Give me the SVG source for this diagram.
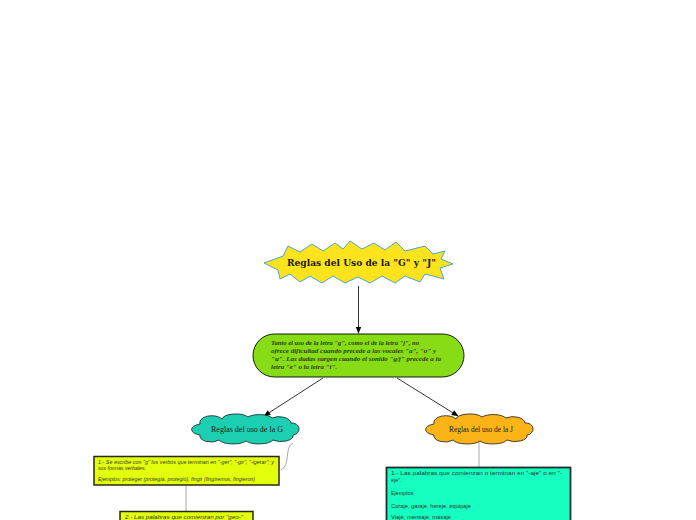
<svg xmlns="http://www.w3.org/2000/svg" width="696" height="520" viewBox="0 0 696 520">
<style>
.conn{stroke:#000;stroke-width:0.8;fill:none}
.thin{stroke:#a8a8a8;stroke-width:1;fill:none}
.serif{font-family:"Liberation Serif","DejaVu Serif",serif}
.sans{font-family:"Liberation Sans",Arial,sans-serif}
.cloud{stroke:#1a1a1a;stroke-width:0.8}
</style>
<defs>
<marker id="arr" viewBox="0 0 10 10" refX="9" refY="5" markerWidth="7" markerHeight="7" orient="auto-start-reverse" markerUnits="userSpaceOnUse">
<path d="M0,1 L10,5 L0,9 z" fill="#000"/>
</marker>
<path id="cloudShape" d="M 200 424 A 12 7 0 0 1 222 419 A 14 6 0 0 1 248 417 A 14 6 0 0 1 272 418 A 12 7 0 0 1 291 423 A 7 6 0 0 1 293 435 A 12 6 0 0 1 273 440 A 15 6 0 0 1 246 441 A 15 6 0 0 1 219 440 A 11 6 0 0 1 200 435 A 14 6 0 0 1 200 424 Z"/>
</defs>

<g id="connectors">
<line class="conn" x1="358.5" y1="286" x2="358.5" y2="333" marker-end="url(#arr)"/>
<line class="conn" x1="323" y1="378" x2="264" y2="416" marker-end="url(#arr)"/>
<line class="conn" x1="397" y1="378" x2="458" y2="416" marker-end="url(#arr)"/>
<path class="thin" d="M 293 443 C 284 447, 291 465, 281 470"/>
<line class="thin" x1="186" y1="486" x2="186" y2="511"/>
<line class="thin" x1="479" y1="441" x2="479" y2="467"/>
</g>

<g id="title">
<polygon points="264,263 283,256 288,246 300,252 312,244 323,251 335,243 343,249 350,241 362,249 374,243 385,250 396,242 405,251 425,246 433,254 445,251 441,259 453,264 440,268 444,279 425,274 420,282 405,276 395,283 382,276 370,283 358,277 345,283 333,276 322,283 310,276 300,282 290,274 280,279 278,270" fill="#fde31b" stroke="#3a9ad9" stroke-width="0.9"/>
<text x="287" y="266" font-family="'DejaVu Serif','Liberation Serif',serif" font-size="10" font-weight="bold" fill="#1a1a1a" textLength="149" lengthAdjust="spacingAndGlyphs">Reglas del Uso de la "G" y "J"</text>
</g>

<g id="intro">
<rect x="253" y="334" width="211" height="43" rx="21.5" ry="21.5" fill="#87dc16" stroke="#000" stroke-width="0.9"/>
<g class="serif" font-size="6.2" font-weight="bold" font-style="italic" fill="#2b3b1a">
<text x="271" y="345" textLength="148" lengthAdjust="spacingAndGlyphs">Tanto el uso de la letra "g", como el de la letra "j", no</text>
<text x="271" y="353" textLength="165" lengthAdjust="spacingAndGlyphs">ofrece dificultad cuando precede a las vocales "a", "o" y</text>
<text x="271" y="361" textLength="170" lengthAdjust="spacingAndGlyphs">"u". Las dudas surgen cuando el sonido "g/j" precede a la</text>
<text x="271" y="369" textLength="66" lengthAdjust="spacingAndGlyphs">letra "e" o la letra "i".</text>
</g>
</g>

<g id="cloudG">
<use href="#cloudShape" fill="#1dcfb1" class="cloud"/>
<text x="247" y="432" class="serif" font-size="7.5" fill="#1a1a1a" text-anchor="middle" textLength="72" lengthAdjust="spacingAndGlyphs">Reglas del uso de la G</text>
</g>

<g id="cloudJ">
<use href="#cloudShape" fill="#fbb417" class="cloud" transform="translate(234,0)"/>
<text x="481" y="432" class="serif" font-size="7.5" fill="#1a1a1a" text-anchor="middle" textLength="64" lengthAdjust="spacingAndGlyphs">Reglas del uso de la J</text>
</g>

<g id="g1">
<rect x="94" y="456.5" width="185" height="28.5" fill="#e2ff0c" stroke="#2a2a10" stroke-width="1.5"/>
<g class="sans" font-size="5" font-style="italic" fill="#333">
<text x="98" y="464" textLength="176" lengthAdjust="spacingAndGlyphs">1.- Se escribe con "g" los verbos que terminan en "-ger", "-gir", "-igerar"; y</text>
<text x="98" y="470" textLength="48" lengthAdjust="spacingAndGlyphs">sus formas verbales.</text>
<text x="98" y="481" textLength="157" lengthAdjust="spacingAndGlyphs">Ejemplos: proteger (protegía, protegió), fingir (fingíremos, fingieron)</text>
</g>
</g>

<g id="g2">
<rect x="120" y="511.5" width="133" height="20" fill="#e2ff0c" stroke="#2a2a10" stroke-width="1.5"/>
<text x="125" y="518.5" class="sans" font-size="5" font-style="italic" fill="#333" textLength="118" lengthAdjust="spacingAndGlyphs">2.- Las palabras que comienzan por "geo-"</text>
</g>

<g id="j1">
<rect x="386.5" y="467.5" width="184" height="60" fill="#14ffc0" stroke="#1f2f28" stroke-width="1.8"/>
<g class="sans" font-size="5.4" fill="#333">
<text x="391" y="475" textLength="171" lengthAdjust="spacingAndGlyphs">1.- Las palabras que comienzan o terminan en "-aje" o en "-</text>
<text x="391" y="482">eje".</text>
<text x="391" y="495">Ejemplos:</text>
<text x="391" y="508" textLength="80" lengthAdjust="spacingAndGlyphs">Coraje, garaje,  hereje, equipaje</text>
<text x="391" y="518.5" textLength="60" lengthAdjust="spacingAndGlyphs">Viaje, mensaje, masaje</text>
</g>
</g>
</svg>
